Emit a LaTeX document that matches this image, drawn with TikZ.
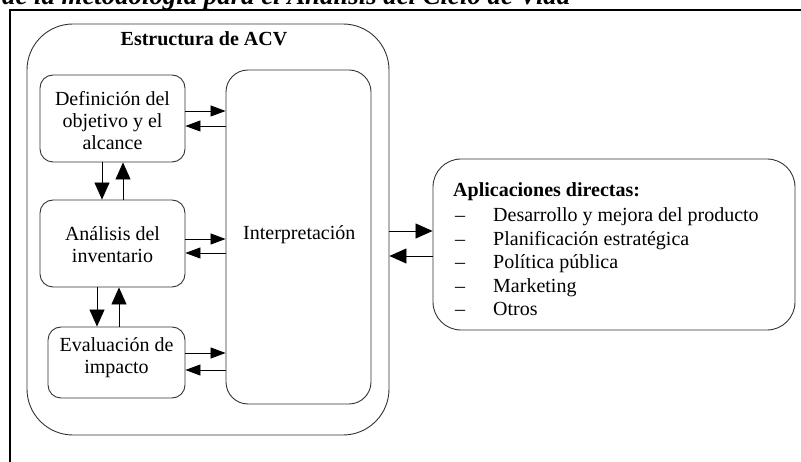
\documentclass[tikz,border=0pt]{standalone}
\usepackage{fontspec}
\setmainfont{Liberation Serif}
\usetikzlibrary{arrows.meta,calc}
\begin{document}
\begin{tikzpicture}[x=1pt,y=-1pt,
  box/.style={draw=black!80, line width=0.9pt, inner sep=0pt},
  txt/.style={font=\fontsize{20}{22}\selectfont, align=center, inner sep=0pt},
  lbl/.style={font=\fontsize{20}{22}\selectfont, inner sep=0pt, anchor=base west},
  harr/.style={-{Triangle[length=15pt,width=11pt]}, line width=0.8pt},
  barr/.style={-{Triangle[length=17pt,width=15pt]}, line width=0.8pt}]
\useasboundingbox (0,0) rectangle (801,462);
\clip (0,0) rectangle (801,462);
% clipped heading
\node[anchor=base west, inner sep=0pt] (head) at (2,5)
  {\resizebox{568pt}{!}{\bfseries\itshape de la metodología para el Análisis del Ciclo de Vida}};
% frame
\coordinate (fbl) at (10,462);
\coordinate (ftl) at (10,10);
\coordinate (ftr) at (801,10);
\draw[line width=1.4pt] (fbl) -- (ftl) -- (ftr);
% outer ACV box
\node[box, rounded corners=46pt, minimum width=362pt, minimum height=411pt] (acv) at (208,229.5) {};
\node[txt, anchor=base, font=\fontsize{20}{22}\selectfont\bfseries] (acvt) at (204,46) {Estructura de ACV};
% inner boxes
\node[box, rounded corners=13pt, minimum width=145pt, minimum height=87pt] (def) at (112.5,118.5) {};
\node[txt] (deft) at (112.5,121) {Definición del\\objetivo y el\\alcance};
\node[box, rounded corners=13pt, minimum width=145pt, minimum height=87pt] (ana) at (112.5,243.5) {};
\node[txt] (anat) at (112.5,245) {Análisis del\\inventario};
\node[box, rounded corners=13pt, minimum width=137pt, minimum height=71pt] (eva) at (116.5,362.5) {};
\node[txt] (evat) at (116.5,358) {Evaluación de\\impacto};
\node[box, rounded corners=22pt, minimum width=145pt, minimum height=334pt] (int) at (298.5,237) {};
\node[lbl] (intt) at (243,240) {Interpretación};
% application box
\node[box, rounded corners=28pt, minimum width=362pt, minimum height=171pt] (app) at (614,244.5) {};
\node[lbl, font=\fontsize{20}{22}\selectfont\bfseries] (apph) at (453,197) {Aplicaciones directas:};
\foreach \y/\t [count=\i] in {222/Desarrollo y mejora del producto, 245.5/Planificación estratégica, 269/Política pública, 292.5/Marketing, 316/Otros}{
  \node[lbl] (d\i) at (455,\y) {--};
  \node[lbl] (i\i) at (493,\y) {\t};
}
% horizontal arrows to/from interpretation
\draw[harr] ([yshift=7.5pt]def.east) -- ([yshift=7.5pt]def.east -| int.west);
\draw[harr] ([yshift=-7.5pt]def.east -| int.west) -- ([yshift=-7.5pt]def.east);
\draw[harr] ([yshift=4.5pt]ana.east) -- ([yshift=4.5pt]ana.east -| int.west);
\draw[harr] ([yshift=-9.5pt]ana.east -| int.west) -- ([yshift=-9.5pt]ana.east);
\draw[harr] ([yshift=9.5pt]eva.east) -- ([yshift=9.5pt]eva.east -| int.west);
\draw[harr] ([yshift=-7.5pt]eva.east -| int.west) -- ([yshift=-7.5pt]eva.east);
% vertical arrows
\draw[barr] ([xshift=-10.5pt]def.south) -- ([xshift=-10.5pt]def.south |- ana.north);
\draw[barr] ([xshift=10.5pt]ana.north) -- ([xshift=10.5pt]ana.north |- def.south);
\draw[barr] ([xshift=-15.5pt]ana.south) -- ([xshift=-15.5pt]ana.south |- eva.north);
\draw[barr] ([xshift=6.5pt]eva.north -| ana.south) -- ([xshift=6.5pt]ana.south);
% arrows ACV <-> applications
\draw[barr] ([yshift=-1.5pt]acv.east) -- ([yshift=-1.5pt]acv.east -| app.west);
\draw[barr] ([yshift=-26.5pt]acv.east -| app.west) -- ([yshift=-26.5pt]acv.east);
\end{tikzpicture}
\end{document}
